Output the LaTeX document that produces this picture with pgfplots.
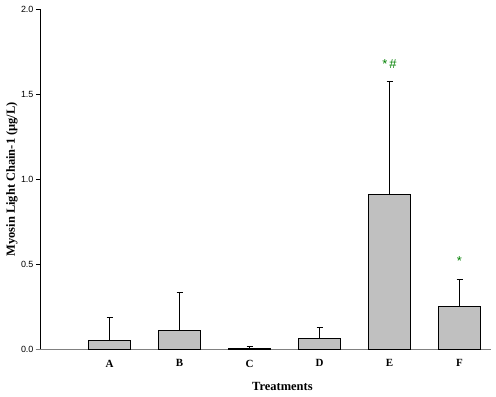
\documentclass[border=0pt]{standalone}
\usepackage{fontspec}
\setmainfont{Liberation Serif}
\newfontfamily\arialfont{Liberation Sans}
\usepackage{pgfplots}
\pgfplotsset{compat=1.18}
\definecolor{barfill}{RGB}{192,192,192}
\definecolor{sig}{RGB}{0,128,0}
\begin{document}
\begin{tikzpicture}
\begin{axis}[
  at={(0,0)}, anchor=south west,
  scale only axis, width=451bp, height=340bp,
  xmin=-0.993, xmax=5.45, ymin=0, ymax=2.0,
  axis lines*=left,
  axis line style={-},
  x axis line style={draw={rgb,255:red,128;green,128;blue,128}, line width=1.6bp, shorten <=-4bp},
  y axis line style={black, line width=0.9bp},
  xtick={0,1,2,3,4,5},
  xticklabels={A,B,C,D,E,F},
  xtick style={draw=none},
  xticklabel style={font=\fontsize{11}{12}\selectfont\bfseries, yshift=-3bp},
  ytick={0,0.5,1,1.5,2},
  ytick style={black, line width=0.8bp},
  tick align=outside, major tick length=4bp,
  yticklabel style={font=\arialfont\fontsize{9}{9}\selectfont, xshift=1bp},
  /pgf/number format/assume math mode=true,
  /pgf/number format/.cd, fixed, fixed zerofill, precision=1, /pgfplots/.cd,
  every axis y label/.style={at={(rel axis cs:0,0.5)}, rotate=90, anchor=center, yshift=28bp, font=\fontsize{12.5}{12.5}\selectfont\bfseries},
  ylabel={Myosin Light Chain-1 (μg/L)},
  every axis x label/.style={at={(axis cs:2.47,0)}, anchor=center, yshift=-37bp, font=\fontsize{12.5}{12.5}\selectfont\bfseries},
  xlabel={Treatments},
  clip=false,
]
\addplot[ybar, bar width=42bp, fill=barfill, draw=black, line width=0.9bp,
  error bars/.cd, y dir=plus, y explicit,
  error bar style={black, line width=0.9bp},
  error mark options={black, line width=0.9bp, mark size=3bp, rotate=90}]
  table[x=x, y=y, y error=e] {
  x y e
  0 0.053 0.133
  1 0.112 0.223
  2 0.003 0.015
  3 0.065 0.064
  4 0.912 0.664
  5 0.253 0.159
};
\node[text=sig, font=\arialfont\fontsize{13}{13}\selectfont] at (axis cs:4,1.68) {*\,\#};
\node[text=sig, font=\arialfont\fontsize{13}{13}\selectfont] at (axis cs:5,0.52) {*};
\end{axis}
\path (-40bp,-47.7bp) rectangle (456bp,349.3bp);
\end{tikzpicture}
\end{document}
